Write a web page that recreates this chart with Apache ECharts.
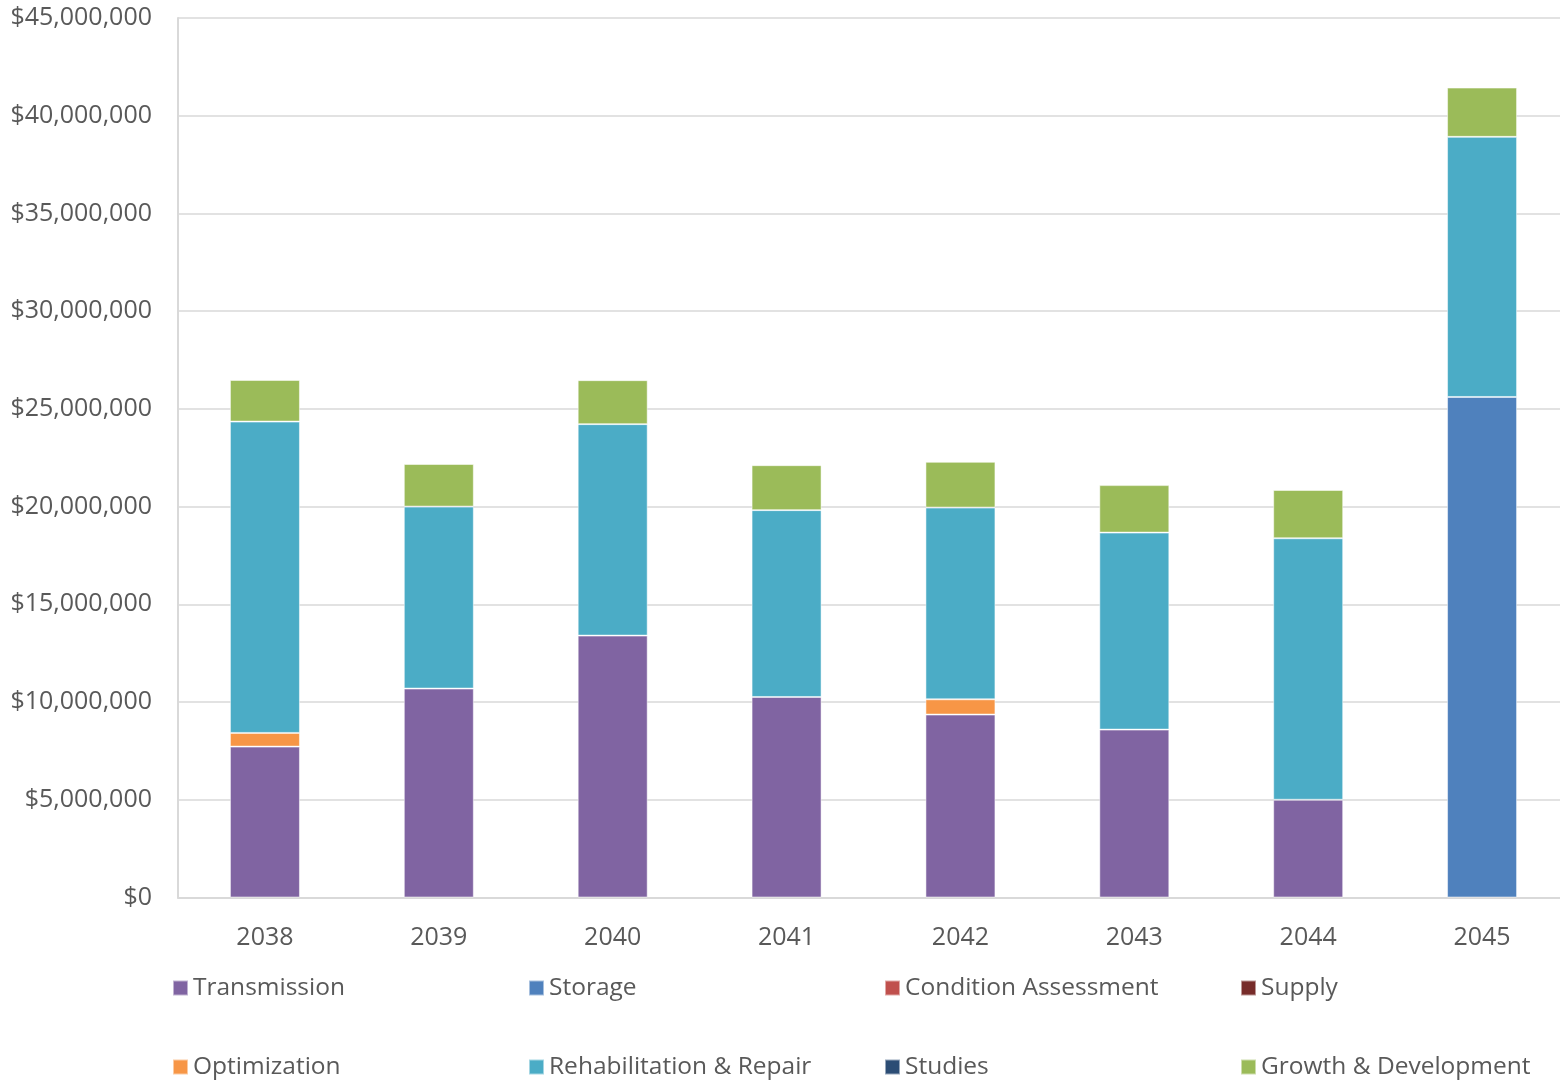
<!DOCTYPE html>
<html>
<head>
<meta charset="utf-8">
<script src="https://cdn.jsdelivr.net/npm/echarts@6/dist/echarts.min.js"></script>
<style>
  html, body { margin: 0; padding: 0; background: #fff; }
  #chart { width: 1560px; height: 1083px; }
</style>
</head>
<body>
<div id="chart"></div>
<script>
// Capital program by category, 2038–2045 (dollars)
const years = ['2038', '2039', '2040', '2041', '2042', '2043', '2044', '2045'];

const transmission        = [7720000, 10690000, 13400000, 10260000, 9360000, 8590000, 5000000, 0];
const storage             = [0, 0, 0, 0, 0, 0, 0, 25610000];
const conditionAssessment = [0, 0, 0, 0, 0, 0, 0, 0];
const supply              = [0, 0, 0, 0, 0, 0, 0, 0];
const optimization        = [700000, 0, 0, 0, 780000, 0, 0, 0];
const rehabRepair         = [15930000, 9310000, 10820000, 9560000, 9810000, 10080000, 13380000, 13310000];
const studies             = [0, 0, 0, 0, 0, 0, 0, 0];
const growthDevelopment   = [2130000, 2180000, 2250000, 2300000, 2340000, 2430000, 2470000, 2520000];

const yTicks = { min: 0, max: 45000000, interval: 5000000 };

const seriesDefs = [
  { name: 'Transmission',            data: transmission,        color: '#8064A2' },
  { name: 'Storage',                 data: storage,             color: '#4F81BD' },
  { name: 'Condition Assessment',    data: conditionAssessment, color: '#C0504D' },
  { name: 'Supply',                  data: supply,              color: '#772C2A' },
  { name: 'Optimization',            data: optimization,        color: '#F79646' },
  { name: 'Rehabilitation & Repair', data: rehabRepair,         color: '#4BACC6' },
  { name: 'Studies',                 data: studies,             color: '#2C4D75' },
  { name: 'Growth & Development',    data: growthDevelopment,   color: '#9BBB59' }
];

const FONT = '"Open Sans", "Noto Sans", sans-serif';
const TEXT = '#595959';

// legend laid out as a 4 x 2 grid of fixed columns
const legendCols = [172, 528, 884, 1240];
const legendRows = [972, 1051];
const legends = seriesDefs.map((s, i) => ({
  data: [s.name],
  left: legendCols[i % 4],
  top: legendRows[Math.floor(i / 4)],
  padding: 0,
  itemWidth: 15,
  itemHeight: 15,
  icon: 'rect',
  selectedMode: false,
  textStyle: { fontFamily: FONT, fontSize: 24.5, color: TEXT, lineHeight: 32 }
}));

// zero-height segments are skipped so no border hairlines appear
const toBarData = arr => arr.map(v => (v === 0 ? '-' : v));

const chart = echarts.init(document.getElementById('chart'), null, { renderer: 'canvas' });
chart.setOption({
  animation: false,
  backgroundColor: '#fff',
  legend: legends,
  // plot area runs slightly past the right edge of the canvas
  grid: { left: 178, right: -9, top: 18, bottom: 185.5, containLabel: false, outerBoundsMode: 'none' },
  xAxis: {
    type: 'category',
    data: years,
    axisLine: { show: true, lineStyle: { color: '#d9d9d9', width: 2 } },
    axisTick: { show: false },
    axisLabel: { fontFamily: FONT, fontSize: 25, color: TEXT, margin: 28 }
  },
  yAxis: {
    type: 'value',
    min: yTicks.min,
    max: yTicks.max,
    interval: yTicks.interval,
    axisLine: { show: true, lineStyle: { color: '#d9d9d9', width: 2 } },
    axisTick: { show: false },
    splitLine: { lineStyle: { color: '#d9d9d9', width: 1.5 } },
    axisLabel: {
      fontFamily: FONT, fontSize: 25, color: TEXT, margin: 26,
      formatter: v => '$' + v.toLocaleString('en-US')
    }
  },
  series: seriesDefs.map(s => ({
    name: s.name,
    type: 'bar',
    stack: 'total',
    barWidth: 70,
    data: toBarData(s.data),
    itemStyle: { color: s.color, borderColor: 'rgba(255,255,255,0.5)', borderWidth: 1 },
    emphasis: { disabled: true }
  }))
});
</script>
</body>
</html>
